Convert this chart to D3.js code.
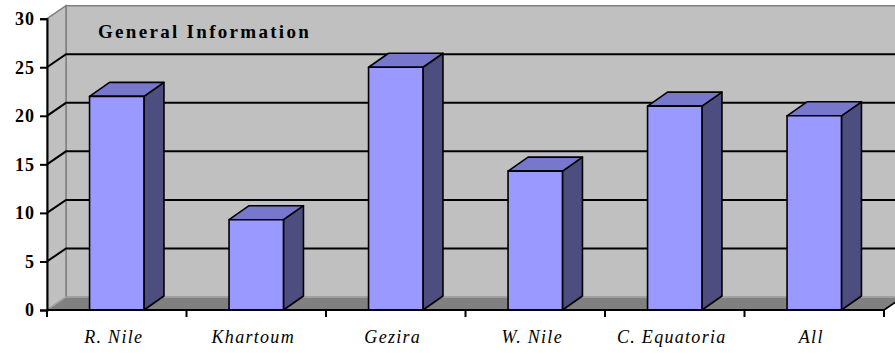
<!DOCTYPE html>
<html>
<head>
<meta charset="utf-8">
<script src="https://cdn.jsdelivr.net/npm/d3@7/dist/d3.min.js"></script>
<style>
  html, body { margin: 0; padding: 0; background: #fff; }
  svg { display: block; }
  text { font-family: "Liberation Serif", "Times New Roman", serif; }
</style>
</head>
<body>
<svg id="chart" width="895" height="354"></svg>
<script>
// Regions and their values
const categories = ["R. Nile", "Khartoum", "Gezira", "W. Nile", "C. Equatoria", "All"];
const values = [22, 9.3, 25, 14.3, 21, 20];
const yTicks = [0, 5, 10, 15, 20, 25, 30];
const title = "General Information";

const svg = d3.select("#chart");

// Front plane of the 3D box
const x0 = 47, x1 = 884, yBase = 310, yTop = 18.7;
// Depth offset of the back wall and of the bars
const wall = { dx: 19, dy: -13 };
const depth = { dx: 20, dy: -14 };

const x = d3.scaleBand().domain(categories).range([x0, x1])
  .paddingInner(0.61).paddingOuter(0.305);
const y = d3.scaleLinear().domain([0, 30]).range([yBase, yTop]);

const line = d3.line();
const poly = pts => line(pts) + "Z";

// Back wall
svg.append("path")
  .attr("d", poly([[x0 + wall.dx, y(30) + wall.dy], [x1 + wall.dx + 20, y(30) + wall.dy],
                   [x1 + wall.dx + 20, y(0) + wall.dy], [x0 + wall.dx, y(0) + wall.dy]]))
  .attr("fill", "#c0c0c0").attr("stroke", "#808080").attr("stroke-width", 1.5);

// Left side wall
svg.append("path")
  .attr("d", poly([[x0, y(30)], [x0 + wall.dx, y(30) + wall.dy],
                   [x0 + wall.dx, y(0) + wall.dy], [x0, y(0)]]))
  .attr("fill", "#c0c0c0").attr("stroke", "#808080").attr("stroke-width", 1.5);

// Floor
svg.append("path")
  .attr("d", poly([[x0, y(0)], [x0 + wall.dx, y(0) + wall.dy],
                   [x1 + wall.dx, y(0) + wall.dy], [x1, y(0)]]))
  .attr("fill", "#808080").attr("stroke", "none");
svg.append("path")
  .attr("d", line([[x0, y(0)], [x0 + wall.dx, y(0) + wall.dy], [x1 + wall.dx + 20, y(0) + wall.dy]]))
  .attr("fill", "none").attr("stroke", "#a6a6a6").attr("stroke-width", 1.5);

// Gridlines: left wall and back wall
const inner = yTicks.filter(v => v > 0 && v < 30);
svg.append("g").selectAll("path").data(inner).join("path")
  .attr("d", v => line([[x0, y(v)], [x0 + wall.dx, y(v) + wall.dy], [x1 + wall.dx + 20, y(v) + wall.dy]]))
  .attr("fill", "none").attr("stroke", "#000").attr("stroke-width", 2);

// Bars (side, top, front faces)
const bars = svg.append("g").selectAll("g").data(categories).join("g");
bars.each(function (c, i) {
  const g = d3.select(this);
  const bx = x(c), bw = x.bandwidth(), top = y(values[i]), bot = y(0);
  const dx = depth.dx, dy = depth.dy;
  g.append("path")
    .attr("d", poly([[bx + bw, top], [bx + bw + dx, top + dy], [bx + bw + dx, bot + dy], [bx + bw, bot]]))
    .attr("fill", "#4d4d80");
  g.append("path")
    .attr("d", poly([[bx, top], [bx + dx, top + dy], [bx + bw + dx, top + dy], [bx + bw, top]]))
    .attr("fill", "#7777cc");
  g.append("rect")
    .attr("x", bx).attr("y", top).attr("width", bw).attr("height", bot - top)
    .attr("fill", "#9999ff");
  g.selectAll("path, rect").attr("stroke", "#000").attr("stroke-width", 1.6)
    .attr("stroke-linejoin", "round");
});

// Floor right edge
svg.append("path")
  .attr("d", line([[x1, y(0)], [x1 + wall.dx, y(0) + wall.dy]]))
  .attr("stroke", "#000").attr("stroke-width", 1.6);

// Y axis
const yAxis = svg.append("g").attr("transform", `translate(${x0},0)`)
  .call(d3.axisLeft(y).tickValues(yTicks).tickSize(7).tickPadding(5));
yAxis.select(".domain").attr("stroke", "#000").attr("stroke-width", 2);
yAxis.selectAll(".tick line").attr("stroke", "#000").attr("stroke-width", 2);
yAxis.selectAll(".tick text")
  .attr("font-family", null)
  .attr("font-weight", "bold").attr("font-size", 18).attr("letter-spacing", 1)
  .attr("fill", "#000");

// X axis: baseline, category boundary ticks and labels
svg.append("line").attr("x1", x0).attr("x2", x1).attr("y1", yBase).attr("y2", yBase)
  .attr("stroke", "#000").attr("stroke-width", 2);
const bounds = d3.range(categories.length + 1).map(i => x0 + i * x.step());
svg.append("g").selectAll("line").data(bounds).join("line")
  .attr("x1", d => d).attr("x2", d => d).attr("y1", yBase).attr("y2", yBase + 7)
  .attr("stroke", "#000").attr("stroke-width", 2);
svg.append("g").selectAll("text").data(categories).join("text")
  .attr("x", c => x(c) + x.bandwidth() / 2 - 3).attr("y", 343)
  .attr("text-anchor", "middle")
  .attr("font-style", "italic").attr("font-size", 18).attr("letter-spacing", 1.3)
  .attr("fill", "#000")
  .text(c => c);

// Title
svg.append("text").attr("x", 98).attr("y", 38)
  .attr("font-weight", "bold").attr("font-size", 19).attr("letter-spacing", 2.3)
  .attr("fill", "#000")
  .text(title);
</script>
</body>
</html>
